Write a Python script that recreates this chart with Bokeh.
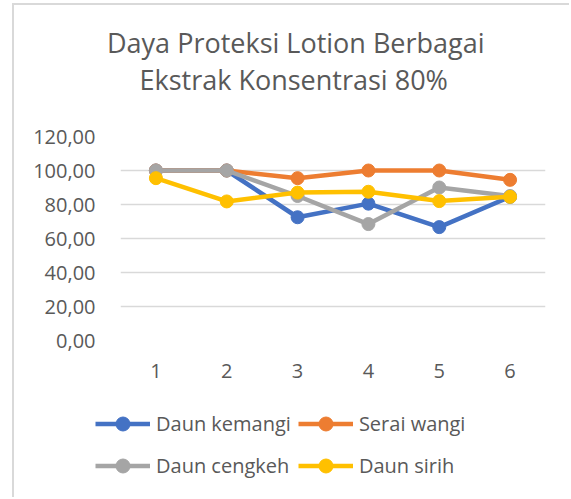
from bokeh.plotting import figure
from bokeh.models import (Range1d, Title, Legend, LegendItem, CustomJSTickFormatter,
                          FixedTicker)
from bokeh.embed import file_html
from bokeh.resources import INLINE

# ---- data ----
categories = [1, 2, 3, 4, 5, 6]
tick_labels = ["1", "2", "3", "4", "5", "6"]
daun_kemangi = [100, 100, 72.5, 80.5, 66.7, 84.5]
serai_wangi = [100, 100, 95.5, 100, 100, 94.5]
daun_cengkeh = [100, 100, 85, 68.5, 90, 85]
daun_sirih = [95.5, 81.8, 87, 87.5, 82, 84.5]
y_ticks = [0, 20, 40, 60, 80, 100, 120]
series_names = ["Daun kemangi", "Serai wangi", "Daun cengkeh", "Daun sirih"]
series_values = [daun_kemangi, serai_wangi, daun_cengkeh, daun_sirih]
colors = ["#4472C4", "#ED7D31", "#A5A5A5", "#FFC000"]
title_lines = ["Daya Proteksi Lotion Berbagai", "Ekstrak Konsentrasi 80%"]

FONT = "Open Sans"
TXT = "#595959"
BORDER = "#d9d9d9"

p = figure(width=557, height=390, output_backend="svg", toolbar_location=None,
           x_range=Range1d(0.5, 6.5), y_range=Range1d(0, 120),
           min_border_left=106, min_border_right=26, min_border_top=131,
           min_border_bottom=55, title=None,
           styles={"margin-left": "12px", "margin-top": "3px",
                   "border-left": f"2px solid {BORDER}",
                   "border-top": f"2px solid {BORDER}"})
p.outline_line_color = None
p.background_fill_color = "white"
p.border_fill_color = "white"

p.xgrid.grid_line_color = None
p.ygrid.grid_line_color = "#d9d9d9"
p.ygrid.grid_line_width = 1.3

p.yaxis.ticker = FixedTicker(ticks=y_ticks)
p.yaxis.formatter = CustomJSTickFormatter(code="return tick.toFixed(2).replace('.', ',');")
p.xaxis.ticker = FixedTicker(ticks=categories)
p.xaxis.major_label_overrides = {c: t for c, t in zip(categories, tick_labels)}
for ax in (p.xaxis, p.yaxis):
    ax.axis_line_color = None
    ax.major_tick_line_color = None
    ax.minor_tick_line_color = None
    ax.major_label_text_font = FONT
    ax.major_label_text_font_size = "20px"
    ax.major_label_text_color = TXT
p.yaxis.major_label_standoff = 19
p.xaxis.major_label_standoff = 17

for vals, col in zip(series_values, colors):
    p.line(categories, vals, line_color=col, line_width=4.5)
    p.scatter(categories, vals, size=13, fill_color=col, line_color=col)

# spacer (closest to the frame), then second line, then first line
p.add_layout(Title(text=" ", text_font_size="10px", standoff=27), "above")
for line, off in [(title_lines[1], 19), (title_lines[0], -13.5)]:
    p.add_layout(Title(text=line, align="left", offset=off, text_font=FONT,
                       text_font_size="27px", text_color=TXT,
                       text_font_style="normal", standoff=-2), "above")

# ---- legend strip below the chart (separate root, frame spans full width) ----
pl = figure(width=557, height=104, output_backend="svg", toolbar_location=None,
            x_range=Range1d(100, 101), y_range=Range1d(0, 120),
            min_border=0, title=None,
            styles={"margin-left": "12px", "border-left": f"2px solid {BORDER}"})
pl.axis.visible = False
pl.grid.visible = False
pl.outline_line_color = None
pl.border_fill_color = "white"
items = []
for name, vals, col in zip(series_names, series_values, colors):
    r1 = pl.line(categories, vals, line_color=col, line_width=4.5)
    r2 = pl.scatter(categories, vals, size=13, fill_color=col, line_color=col)
    items.append(LegendItem(label=name, renderers=[r1, r2]))
legend = Legend(items=items, orientation="horizontal", ncols=2, location=(81, 14.5),
                glyph_width=55, glyph_height=35, label_height=35,
                label_standoff=6, spacing=7, padding=0, margin=0,
                border_line_color=None, background_fill_alpha=0,
                label_text_font=FONT, label_text_font_size="20px",
                label_text_color=TXT)
pl.add_layout(legend, "center")

open("out.html", "w").write(file_html([p, pl], INLINE))
